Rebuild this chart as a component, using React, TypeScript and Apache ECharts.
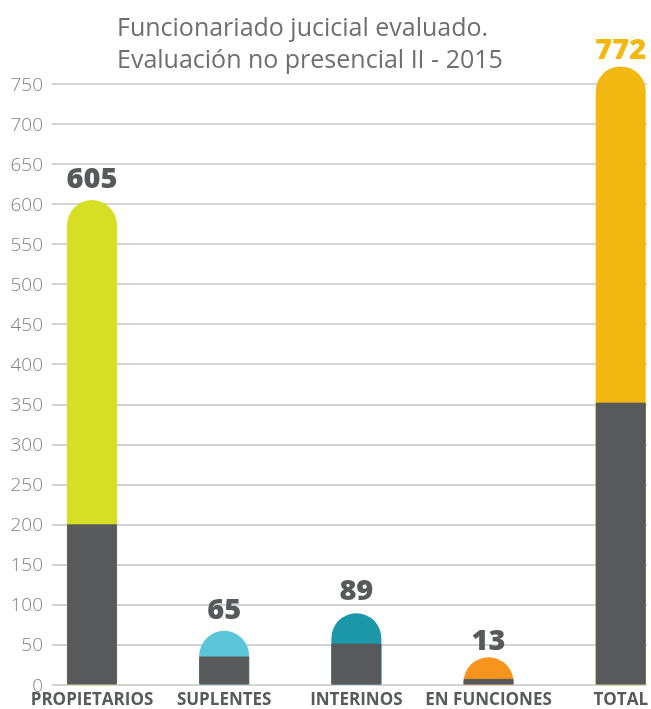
import React, { useEffect, useRef } from "react";
import * as echarts from "echarts";

const categories = ["PROPIETARIOS", "SUPLENTES", "INTERINOS", "EN FUNCIONES", "TOTAL"];
// drawn bar heights (top of the rounded coloured bar)
const barTops = [605, 67, 89, 34, 772];
// dark bottom portion of each bar
const grayParts = [200, 35, 51, 7, 352];
// numbers printed above the bars
const valueLabels = ["605", "65", "89", "13", "772"];
const barColors = ["#d6df23", "#5bc6d9", "#1b97a9", "#f7941e", "#f2b711"];
const labelColors = ["#58595b", "#58595b", "#58595b", "#58595b", "#f2b711"];
const labelDistances = [9, 9, 10, 4, 4];
const yTicks = { min: 0, max: 750, interval: 50 };

export default function App() {
  const ref = useRef<HTMLDivElement>(null);

  useEffect(() => {
    if (!ref.current) return;
    const chart = echarts.init(ref.current, null, { renderer: "svg" });
    const grid = { top: 84, bottom: 24.5 };
    chart.setOption({
      animation: false,
      title: {
        text: "Funcionariado jucicial evaluado.\nEvaluación no presencial II - 2015",
        left: 117,
        top: 10,
        padding: 0,
        textStyle: {
          fontFamily: "Open Sans",
          fontWeight: "normal",
          fontSize: 25,
          lineHeight: 32,
          color: "#6d6e71",
        },
      },
      grid: [
        { left: 52, right: 4, ...grid },
        { left: 92, right: 29, ...grid },
      ],
      xAxis: [
        { type: "value", gridIndex: 0, show: false, min: 0, max: 1 },
        {
          type: "category",
          gridIndex: 1,
          data: categories,
          boundaryGap: false,
          axisLine: { show: false },
          axisTick: { show: false },
          axisLabel: {
            margin: 5,
            interval: 0,
            fontFamily: "Open Sans",
            fontWeight: "bold",
            fontSize: 17,
            lineHeight: 17,
            color: "#58595b",
          },
        },
      ],
      yAxis: [
        {
          type: "value",
          gridIndex: 0,
          min: yTicks.min,
          max: yTicks.max,
          interval: yTicks.interval,
          axisLine: { show: false },
          axisTick: { show: false },
          axisLabel: {
            margin: 9,
            fontFamily: "Open Sans",
            fontWeight: 300,
            fontSize: 19,
            color: "#808285",
          },
          splitLine: { lineStyle: { color: "#c4c5c7", width: 1.5 } },
        },
        {
          type: "value",
          gridIndex: 1,
          min: yTicks.min,
          max: yTicks.max,
          show: false,
          splitLine: { show: false },
        },
      ],
      series: [
        {
          type: "bar",
          xAxisIndex: 1,
          yAxisIndex: 1,
          barWidth: 50,
          clip: false,
          z: 2,
          data: barTops.map((v, i) => ({
            value: v,
            itemStyle: { color: barColors[i], borderRadius: [25, 25, 0, 0] },
            label: {
              show: true,
              position: "top",
              distance: labelDistances[i],
              formatter: () => valueLabels[i],
              fontFamily: "Open Sans",
              fontWeight: 800,
              fontSize: 29,
              color: labelColors[i],
            },
          })),
        },
        {
          type: "bar",
          xAxisIndex: 1,
          yAxisIndex: 1,
          barWidth: 50,
          barGap: "-100%",
          clip: false,
          z: 3,
          data: grayParts.map((v) => ({
            value: v,
            itemStyle: { color: "#58595b", borderColor: "#58595b", borderWidth: 0.8 },
          })),
        },
      ],
    });
    return () => chart.dispose();
  }, []);

  return (
    <div
      ref={ref}
      style={{ position: "fixed", left: 0, top: 0, width: 651, height: 709 }}
    />
  );
}
